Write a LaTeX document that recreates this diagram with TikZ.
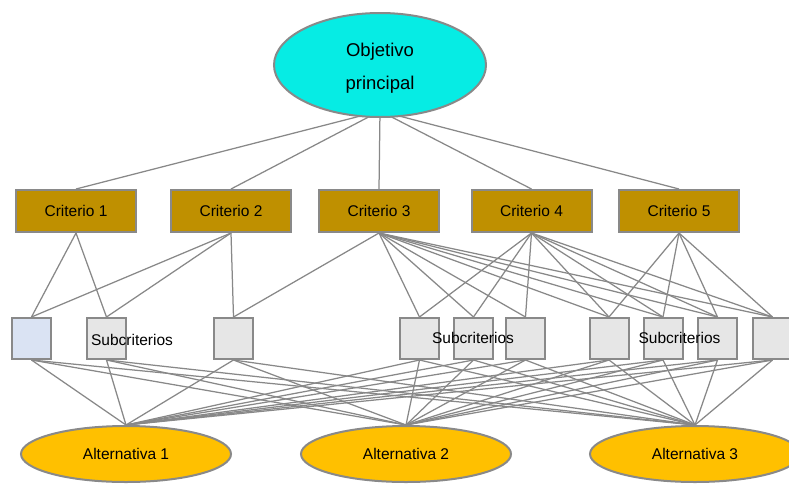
\documentclass[tikz,border=0pt]{standalone}
\usepackage{fontspec}
\setmainfont{Liberation Sans}
\usetikzlibrary{shapes.geometric,backgrounds}

\definecolor{goalcyan}{RGB}{6,236,228}
\definecolor{critgold}{RGB}{191,144,0}
\definecolor{altgold}{RGB}{255,192,0}
\definecolor{subgray}{RGB}{230,230,230}
\definecolor{subblue}{RGB}{218,227,243}
\definecolor{bordergray}{RGB}{137,137,137}
\definecolor{linegray}{RGB}{136,136,136}

\begin{document}
\begin{tikzpicture}[x=1pt,y=-1pt,
  outline/.style={draw=bordergray,line width=2pt},
  goal/.style={outline,ellipse,fill=goalcyan,minimum width=212pt,minimum height=104pt,
    inner sep=0pt,align=center,font=\fontsize{18.5}{33}\selectfont},
  crit/.style={outline,rectangle,fill=critgold,minimum width=120pt,minimum height=42pt,
    inner sep=0pt,font=\fontsize{15.5}{18}\selectfont},
  sub/.style={outline,rectangle,fill=subgray,minimum width=39pt,minimum height=41pt,inner sep=0pt},
  alt/.style={outline,ellipse,fill=altgold,minimum width=210pt,minimum height=56pt,
    inner sep=0pt,font=\fontsize{15.5}{18}\selectfont},
  sublabel/.style={inner sep=0pt,font=\fontsize{15.5}{18}\selectfont},
  link/.style={draw=linegray,line width=1.25pt}]
\useasboundingbox (0,0) rectangle (789,483);
\clip (0,0) rectangle (789,483);

% goal (the strut lowers the two text lines a little inside the ellipse)
\node[goal] (goal) at (380,65) {\rule{0pt}{19.5pt}Objetivo\\principal};
\coordinate (hub) at (380,111);

% criteria
\node[crit] (c1) at (76,211)  {Criterio 1};
\node[crit] (c2) at (231,211) {Criterio 2};
\node[crit] (c3) at (379,211) {Criterio 3};
\node[crit] (c4) at (531.5,211) {Criterio 4};
\node[crit] (c5) at (679,211) {Criterio 5};

% sub-criteria
\node[sub,fill=subblue] (s1) at (31.5,338.5) {};
\node[sub] (s2)  at (106.5,338.5) {};
\node[sub] (s3)  at (233.5,338.5) {};
\node[sub] (s4)  at (419.5,338.5) {};
\node[sub] (s5)  at (473.5,338.5) {};
\node[sub] (s6)  at (525.5,338.5) {};
\node[sub] (s7)  at (609,338.5) {};
\node[sub] (s8)  at (663,338.5) {};
\node[sub] (s9)  at (717.5,338.5) {};
\node[sub] (s10) at (772.5,338.5) {};

\node[sublabel] (l1) at (132,340)   {Subcriterios};
\node[sublabel] (l2) at (473,338)   {Subcriterios};
\node[sublabel] (l3) at (679.5,338) {Subcriterios};

% alternatives
\node[alt] (a1) at (126,454) {Alternativa 1};
\node[alt] (a2) at (406,454) {Alternativa 2};
\node[alt] (a3) at (695,454) {Alternativa 3};

\begin{scope}[on background layer]
  \foreach \c in {c1,c2,c3,c4,c5}
    \draw[link] (hub) -- (\c.north);
  \foreach \c/\s in {c1/s1,c1/s2,
                     c2/s1,c2/s2,c2/s3,
                     c3/s3,c3/s4,c3/s5,c3/s6,c3/s7,c3/s8,c3/s9,c3/s10,
                     c4/s4,c4/s5,c4/s6,c4/s7,c4/s8,c4/s9,c4/s10,
                     c5/s7,c5/s8,c5/s9,c5/s10}
    \draw[link] (\c.south) -- (\s.north);
  \foreach \s in {s1,s2,s3,s4,s5,s6,s7,s8,s9,s10}
    \foreach \a in {a1,a2,a3}
      \draw[link] (\s.south) -- (\a.north);
\end{scope}
\end{tikzpicture}
\end{document}
